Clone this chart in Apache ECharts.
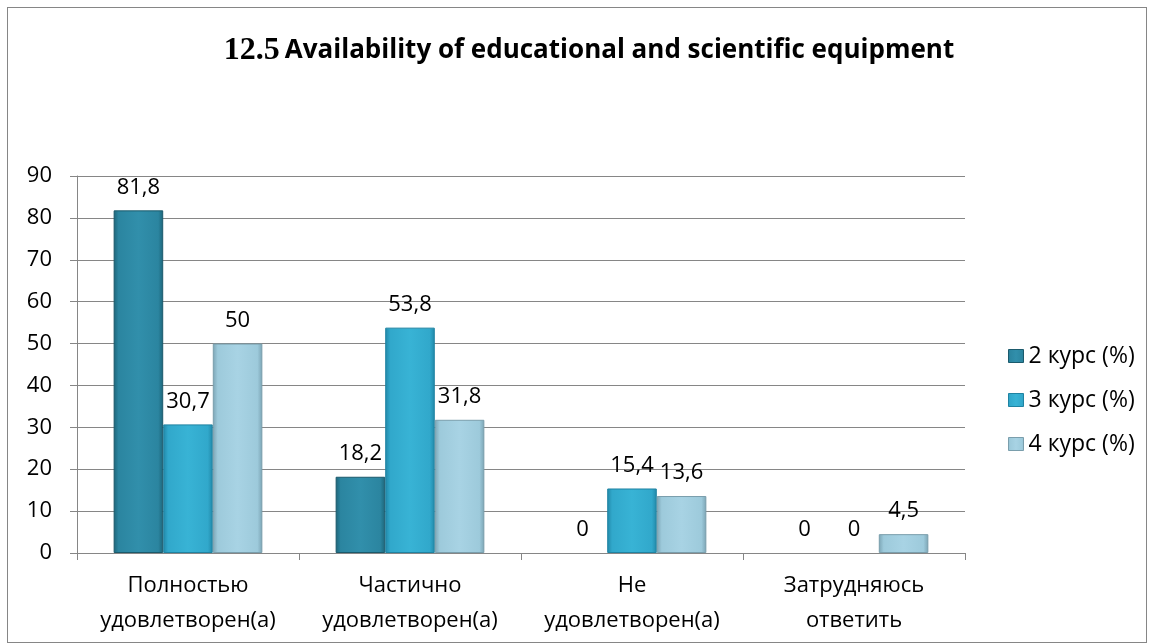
<!DOCTYPE html>
<html><head><meta charset="utf-8">
<script src="https://cdn.jsdelivr.net/npm/echarts@6/dist/echarts.min.js"></script>
<style>
html,body{margin:0;padding:0;background:#fff;}
#frame{position:absolute;left:7px;top:7px;width:1140px;height:636px;border:1px solid #868686;box-sizing:border-box;}
#c{position:absolute;left:0;top:0;width:1153px;height:644px;}
</style></head>
<body><div id="frame"></div><div id="c"></div>
<script>
var categories = ['Полностью\nудовлетворен(а)', 'Частично\nудовлетворен(а)', 'Не\nудовлетворен(а)', 'Затрудняюсь\nответить'];
var seriesNames = ['2 курс (%)', '3 курс (%)', '4 курс (%)'];
var kurs2 = [81.8, 18.2, 0, 0];
var kurs3 = [30.7, 53.8, 15.4, 0];
var kurs4 = [50, 31.8, 13.6, 4.5];
var yTicks = [0, 10, 20, 30, 40, 50, 60, 70, 80, 90];

function grad(dark, mid, light) {
  return new echarts.graphic.LinearGradient(0, 0, 1, 0, [
    {offset: 0, color: dark}, {offset: 0.1, color: mid}, {offset: 0.5, color: light},
    {offset: 0.9, color: mid}, {offset: 1, color: dark}
  ]);
}
var colors = [
  grad('#1d6579', '#2b85a0', '#318fab'),
  grad('#2188a8', '#31a8cb', '#38b3d5'),
  grad('#7ba4b4', '#9dcadb', '#a8d3e4')
];
var borderColors = ['#1b5a6c', '#1f83a2', '#7a9eac'];
var legendColors = ['#2b85a0', '#31a8cb', '#9dcadb'];
var dataSets = [kurs2, kurs3, kurs4];

var chart = echarts.init(document.getElementById('c'), null, {renderer: 'canvas'});
var font = '"Open Sans", "Noto Sans", sans-serif';
chart.setOption({
  animation: false,
  color: legendColors,
  title: {
    text: '{a|12.5} {b|Availability of educational and scientific equipment}',
    left: 584, textAlign: 'center', top: 27,
    textStyle: {
      rich: {
        a: {fontFamily: '"Liberation Serif", serif', fontWeight: 'bold', fontSize: 32, color: '#000', lineHeight: 38},
        b: {fontFamily: font, fontWeight: 'bold', fontSize: 26, color: '#000', lineHeight: 38}
      }
    }
  },
  legend: {
    orient: 'vertical', left: 1003, top: 339, itemWidth: 15, itemHeight: 13, itemGap: 20,
    icon: 'rect',
    textStyle: {fontFamily: font, fontSize: 23, color: '#000', lineHeight: 24},
    data: seriesNames.map(function(n, i){ return {name: n, itemStyle: {borderColor: borderColors[i], borderWidth: 1}}; })
  },
  grid: {left: 77, right: 188, top: 176, bottom: 91, containLabel: false},
  xAxis: {
    type: 'category', data: categories,
    axisLine: {lineStyle: {color: '#868686'}},
    axisTick: {show: true, length: 7, lineStyle: {color: '#868686'}},
    axisLabel: {fontFamily: font, fontSize: 22, color: '#000', lineHeight: 35, margin: 15, interval: 0}
  },
  yAxis: {
    type: 'value', min: 0, max: 90, interval: 10,
    axisLine: {show: true, lineStyle: {color: '#868686'}},
    axisTick: {show: true, length: 7, lineStyle: {color: '#868686'}},
    splitLine: {lineStyle: {color: '#868686'}},
    axisLabel: {fontFamily: font, fontSize: 22, color: '#000', margin: 25,
      formatter: function(v){ return yTicks.indexOf(v) >= 0 ? String(v) : ''; }}
  },
  series: dataSets.map(function(d, i) {
    return {
      name: seriesNames[i], type: 'bar',
      data: d.map(function(v){ return v === 0 ? {value: v, itemStyle: {borderWidth: 0}} : v; }),
      barGap: '0%', barCategoryGap: '33%',
      itemStyle: {color: colors[i], borderColor: borderColors[i], borderWidth: 1},
      label: {show: true, position: 'top', distance: 12, fontFamily: font, fontSize: 22, color: '#000',
        formatter: function(p){ return String(p.value).replace('.', ','); }}
    };
  })
});
</script></body></html>
